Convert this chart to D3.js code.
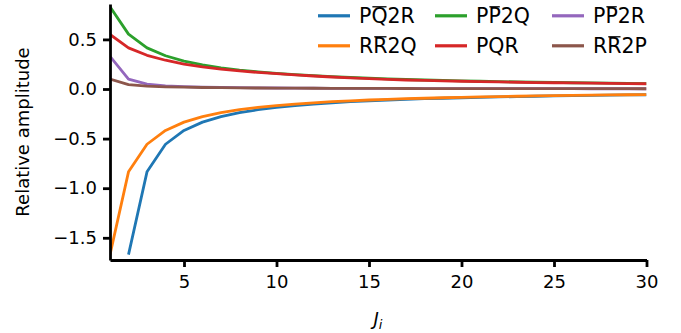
<!DOCTYPE html>
<html>
<head>
<meta charset="utf-8">
<script src="https://cdn.jsdelivr.net/npm/d3@7"></script>
<style>
  body { margin: 0; background: #fff; }
  text { font-family: "DejaVu Sans", sans-serif; fill: #000; }
</style>
</head>
<body>
<div id="chart"></div>
<script>
// J values 1..30
const J = d3.range(1, 31);

// series values (null = not drawn)
const pQbar2R = [null, -1.67, -0.835, -0.557, -0.418, -0.334, -0.278, -0.239, -0.209, -0.186,
  -0.167, -0.152, -0.139, -0.128, -0.119, -0.111, -0.104, -0.098, -0.093, -0.088,
  -0.084, -0.080, -0.076, -0.073, -0.070, -0.067, -0.064, -0.062, -0.060, -0.058];
const rRbar2Q = [-1.67, -0.835, -0.557, -0.418, -0.334, -0.278, -0.239, -0.209, -0.186, -0.167,
  -0.152, -0.139, -0.128, -0.119, -0.111, -0.104, -0.098, -0.093, -0.088, -0.084,
  -0.080, -0.076, -0.073, -0.070, -0.067, -0.064, -0.062, -0.060, -0.058, -0.056];
const pPbar2Q = [0.83, 0.553, 0.415, 0.335, 0.282, 0.243, 0.214, 0.191, 0.173, 0.158,
  0.145, 0.134, 0.124, 0.116, 0.109, 0.102, 0.096, 0.091, 0.086, 0.082,
  0.078, 0.075, 0.071, 0.068, 0.066, 0.063, 0.061, 0.059, 0.057, 0.055];
const pQR = [0.55, 0.415, 0.34, 0.29, 0.25, 0.222, 0.2, 0.182, 0.167, 0.154,
  0.142, 0.131, 0.121, 0.112, 0.104, 0.097, 0.091, 0.086, 0.082, 0.078,
  0.074, 0.071, 0.068, 0.065, 0.063, 0.061, 0.059, 0.057, 0.055, 0.053];
const pPbar2R = [0.33, 0.10, 0.05, 0.032, 0.024, 0.019, 0.015, 0.013, 0.011, 0.010,
  0.009, 0.008, 0.007, 0.0065, 0.006, 0.0055, 0.005, 0.0047, 0.0044, 0.0041,
  0.0038, 0.0036, 0.0034, 0.0032, 0.003, 0.0029, 0.0028, 0.0027, 0.0026, 0.0025];
const rRbar2P = [0.10, 0.045, 0.03, 0.022, 0.018, 0.015, 0.013, 0.011, 0.010, 0.009,
  0.008, 0.0075, 0.007, 0.0065, 0.006, 0.0055, 0.005, 0.0048, 0.0045, 0.0043,
  0.004, 0.0038, 0.0036, 0.0035, 0.0033, 0.0032, 0.0031, 0.003, 0.0029, 0.0028];

const xTicks = [5, 10, 15, 20, 25, 30];
const yTicks = [-1.5, -1.0, -0.5, 0.0, 0.5];

// legend labels: pieces, the second flag = overline
const series = [
  { name: [["P", false], ["Q", true], ["2R", false]], color: "#1f77b4", values: pQbar2R },
  { name: [["R", false], ["R", true], ["2Q", false]], color: "#ff7f0e", values: rRbar2Q },
  { name: [["P", false], ["P", true], ["2Q", false]], color: "#2ca02c", values: pPbar2Q },
  { name: [["PQR", false]], color: "#d62728", values: pQR },
  { name: [["P", false], ["P", true], ["2R", false]], color: "#9467bd", values: pPbar2R },
  { name: [["R", false], ["R", true], ["2P", false]], color: "#8c564b", values: rRbar2P }
];

const width = 681, height = 333;
const svg = d3.select("#chart").append("svg")
  .attr("width", width).attr("height", height);

const x = d3.scaleLinear().domain([1, 30]).range([110, 646.5]);
const y = d3.scaleLinear().domain([-1.724, 0.857]).range([260, 4]);

// clip to plot area
svg.append("clipPath").attr("id", "clip")
  .append("rect").attr("x", 110).attr("y", 4).attr("width", 536.5).attr("height", 256);

const line = d3.line()
  .defined(d => d[1] !== null)
  .x(d => x(d[0]))
  .y(d => y(d[1]));

const plot = svg.append("g").attr("clip-path", "url(#clip)");
series.forEach(s => {
  plot.append("path")
    .datum(J.map((j, i) => [j, s.values[i]]))
    .attr("d", line)
    .attr("fill", "none")
    .attr("stroke", s.color)
    .attr("stroke-width", 2.8)
    .attr("stroke-linejoin", "round");
});

// axes
const xAxis = svg.append("g")
  .attr("transform", "translate(0,260)")
  .call(d3.axisBottom(x).tickValues(xTicks).tickSize(7).tickPadding(8).tickSizeOuter(0));
const yAxis = svg.append("g")
  .attr("transform", "translate(110,0)")
  .call(d3.axisLeft(y).tickValues(yTicks).tickSize(7).tickPadding(6).tickSizeOuter(0)
    .tickFormat(d => d3.format(".1f")(d).replace("-", "\u2212")));

[xAxis, yAxis].forEach(a => {
  a.select(".domain").attr("stroke", "#000").attr("stroke-width", 2.8);
  a.selectAll(".tick line").attr("stroke", "#000").attr("stroke-width", 2.8);
  a.selectAll(".tick text").attr("font-size", 18).attr("font-family", "DejaVu Sans").attr("fill", "#000");
});

// axis labels
svg.append("text")
  .attr("transform", "translate(29,132) rotate(-90)")
  .attr("text-anchor", "middle")
  .attr("font-size", 18)
  .text("Relative amplitude");

const xl = svg.append("text")
  .attr("x", 378).attr("y", 325)
  .attr("text-anchor", "middle")
  .attr("font-size", 18);
xl.append("tspan").attr("font-style", "italic").text("J");
xl.append("tspan").attr("font-style", "italic").attr("font-size", 13).attr("dy", 4).text("i");

// legend: 3 columns, 2 rows, column-major order
const colX = [318, 435, 552];
const rowY = [23.3, 53.3];
const legend = svg.append("g");
series.forEach((s, i) => {
  const cx = colX[Math.floor(i / 2)];
  const by = rowY[i % 2];
  legend.append("line")
    .attr("x1", cx).attr("x2", cx + 32)
    .attr("y1", by - 7.5).attr("y2", by - 7.5)
    .attr("stroke", s.color).attr("stroke-width", 3.2);
  const t = legend.append("text")
    .attr("x", cx + 41).attr("y", by)
    .attr("font-size", 20.5);
  let idx = 0;
  const over = [];
  s.name.forEach(([str, ov]) => {
    t.append("tspan").text(str);
    if (ov) for (let k = 0; k < str.length; k++) over.push(idx + k);
    idx += str.length;
  });
  const node = t.node();
  over.forEach(k => {
    const x0 = node.getStartPositionOfChar(k).x;
    const x1 = node.getEndPositionOfChar(k).x;
    legend.append("line")
      .attr("x1", x0 + 1).attr("x2", x1 - 1)
      .attr("y1", by - 16.5).attr("y2", by - 16.5)
      .attr("stroke", "#000").attr("stroke-width", 1.3);
  });
});
</script>
</body>
</html>
